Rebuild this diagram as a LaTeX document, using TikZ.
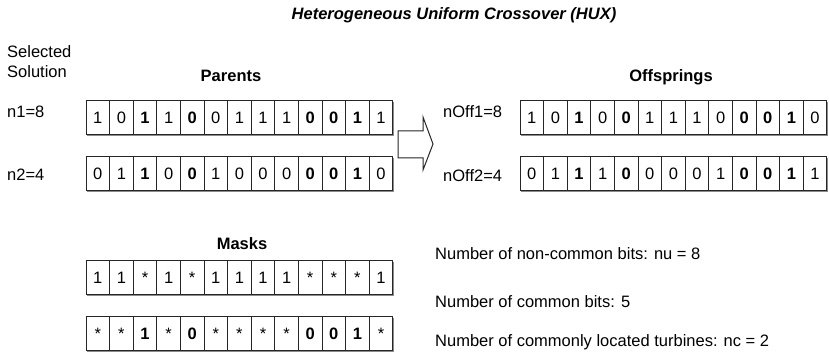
\documentclass[tikz,border=0pt]{standalone}
\usepackage{fontspec}
\setmainfont{Liberation Sans}
\usetikzlibrary{shadows}

% one row of 13 bit cells: name, left edge, centre line, bits
\newcommand\bitrow[4]{%
  \foreach \b [count=\i] in {#4}
    \node[bit] (#1-\i) at ({#2+11.8+23.6*(\i-1)},#3) {\b};
}

\tikzset{
  bit/.style={draw=black!85, line width=1pt, fill=white,
    minimum width=23.6pt, minimum height=34pt, inner sep=0pt, outer sep=0pt,
    drop shadow={shadow xshift=1.2pt, shadow yshift=-1.2pt, fill=black!45, opacity=1}},
  heading/.style={font=\fontsize{16.5}{20}\selectfont\bfseries, inner sep=0pt},
  tag/.style={anchor=base west, inner sep=0pt},
}

\begin{document}
\fontsize{16.5}{20}\selectfont
\begin{tikzpicture}[x=1pt, y=-1pt]
    \useasboundingbox (0,0) rectangle (829,352);

    % title
    \node[heading, font=\fontsize{16.5}{20}\selectfont\bfseries\itshape, anchor=base] (title) at (454,20)
        {Heterogeneous Uniform Crossover (HUX)};

    % headings
    \node[tag, align=left] (sel1) at (7,58) {Selected};
    \node[tag, align=left] (sel2) at (7,78) {Solution};
    \node[heading, anchor=base] (parents) at (231,82) {Parents};
    \node[heading, anchor=base] (offs)    at (671,82) {Offsprings};
    \node[heading, anchor=base] (masks)   at (242,250) {Masks};

    % parents
    \node[tag] (n1) at (7,118) {n1=8};
    \node[tag] (n2) at (7,181) {n2=4};
    \bitrow{pa}{86}{117.5}{1,0,\textbf{1},1,\textbf{0},0,1,1,1,\textbf{0},\textbf{0},\textbf{1},1}
    \bitrow{pb}{86}{173.5}{0,1,\textbf{1},0,\textbf{0},1,0,0,0,\textbf{0},\textbf{0},\textbf{1},0}

    % crossover arrow
    \draw[line width=1pt, draw=black!85, fill=white]
        (398,131) -- (423,131) -- (423,117) -- (433,144) -- (423,170) -- (423,158) -- (398,158) -- cycle;

    % offsprings
    \node[tag] (no1) at (443,118) {nOff1=8};
    \node[tag] (no2) at (443,182) {nOff2=4};
    \bitrow{oa}{520}{117.5}{1,0,\textbf{1},0,\textbf{0},1,1,1,0,\textbf{0},\textbf{0},\textbf{1},0}
    \bitrow{ob}{520}{173.5}{0,1,\textbf{1},1,\textbf{0},0,0,0,1,\textbf{0},\textbf{0},\textbf{1},1}

    % masks
    \bitrow{ma}{86}{277.5}{1,1,*,1,*,1,1,1,1,*,*,*,1}
    \bitrow{mb}{86}{333.5}{*,*,\textbf{1},*,\textbf{0},*,*,*,*,\textbf{0},\textbf{0},\textbf{1},*}

    % counts
    \node[tag] (nu) at (435,260) {Number of non-common bits: nu = 8};
    \node[tag] (cb) at (435,307) {Number of common bits: 5};
    \node[tag] (nc) at (435,346) {Number of commonly located turbines: nc = 2};
\end{tikzpicture}
\end{document}
